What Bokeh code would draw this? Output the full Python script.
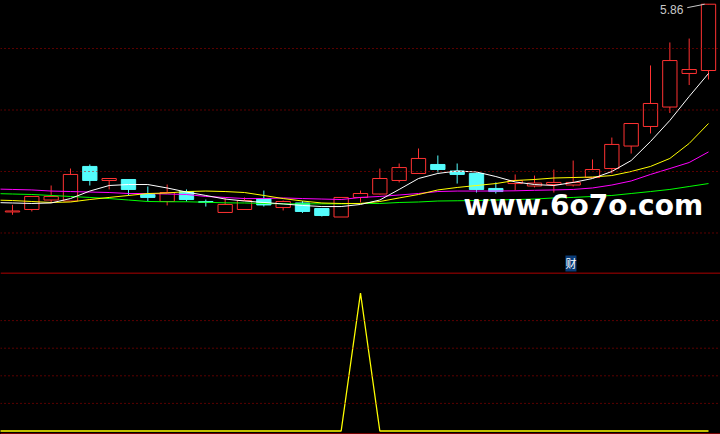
from bokeh.plotting import figure
from bokeh.layouts import column
from bokeh.models import Span, Label, Range1d
from bokeh.embed import file_html
from bokeh.resources import INLINE

# ---- daily candles (price), day 0 .. day 36 ----
opens = [4.171, 4.191, 4.268, 4.260, 4.541, 4.427, 4.435, 4.313, 4.256, 4.337,
         4.256, 4.167, 4.191, 4.280, 4.207, 4.244, 4.199, 4.130, 4.289, 4.317,
         4.427, 4.484, 4.557, 4.504, 4.484, 4.362, 4.402, 4.382, 4.394, 4.390,
         4.451, 4.524, 4.707, 4.866, 5.024, 5.297, 5.321]
highs = [4.229, 4.297, 4.386, 4.524, 4.557, 4.443, 4.435, 4.378, 4.394, 4.354,
         4.272, 4.285, 4.289, 4.345, 4.264, 4.260, 4.199, 4.289, 4.345, 4.524,
         4.565, 4.687, 4.630, 4.565, 4.492, 4.411, 4.476, 4.467, 4.516, 4.589,
         4.598, 4.776, 4.890, 5.362, 5.549, 5.581, 5.860]
lows = [4.148, 4.175, 4.244, 4.260, 4.386, 4.354, 4.305, 4.256, 4.224, 4.256,
        4.215, 4.167, 4.191, 4.215, 4.183, 4.163, 4.134, 4.130, 4.248, 4.313,
        4.411, 4.484, 4.492, 4.402, 4.329, 4.321, 4.345, 4.370, 4.329, 4.378,
        4.451, 4.484, 4.646, 4.809, 4.976, 5.203, 5.248]
closes = [4.179, 4.297, 4.297, 4.476, 4.427, 4.443, 4.354, 4.289, 4.329, 4.272,
          4.248, 4.232, 4.264, 4.228, 4.256, 4.175, 4.142, 4.289, 4.321, 4.443,
          4.532, 4.606, 4.516, 4.476, 4.354, 4.337, 4.427, 4.406, 4.411, 4.411,
          4.516, 4.720, 4.890, 5.053, 5.402, 5.329, 5.860]

# ---- moving averages and indicator: day -1 (off-screen) .. day 36 ----
ma_white = [4.248, 4.244, 4.240, 4.244, 4.280, 4.341, 4.386, 4.394, 4.394, 4.366, 4.333,
            4.305, 4.276, 4.260, 4.248, 4.236, 4.224, 4.215, 4.215, 4.232, 4.268,
            4.354, 4.443, 4.484, 4.504, 4.496, 4.459, 4.415, 4.394, 4.386, 4.411,
            4.443, 4.500, 4.589, 4.744, 4.915, 5.110, 5.297]
ma_yellow = [4.268, 4.264, 4.256, 4.248, 4.252, 4.272, 4.289, 4.305, 4.321, 4.325, 4.337,
             4.341, 4.337, 4.329, 4.305, 4.280, 4.260, 4.244, 4.240, 4.240, 4.256,
             4.285, 4.313, 4.350, 4.370, 4.386, 4.402, 4.427, 4.435, 4.447, 4.451,
             4.455, 4.467, 4.500, 4.541, 4.606, 4.728, 4.890]
ma_magenta = [4.358, 4.354, 4.350, 4.341, 4.337, 4.333, 4.329, 4.321, 4.321, 4.317, 4.313,
              4.297, 4.289, 4.280, 4.280, 4.285, 4.280, 4.276, 4.272, 4.289, 4.297,
              4.309, 4.321, 4.337, 4.341, 4.341, 4.341, 4.343, 4.347, 4.350, 4.354,
              4.366, 4.390, 4.423, 4.476, 4.524, 4.573, 4.659]
ma_green = [4.321, 4.317, 4.313, 4.305, 4.297, 4.289, 4.280, 4.268, 4.256, 4.254, 4.254,
            4.250, 4.245, 4.244, 4.240, 4.237, 4.237, 4.237, 4.237, 4.240, 4.240,
            4.248, 4.252, 4.260, 4.262, 4.264, 4.268, 4.272, 4.276, 4.285, 4.289,
            4.297, 4.305, 4.321, 4.337, 4.354, 4.378, 4.402]
signal = [0, 0, 0, 0, 0, 0, 0, 0, 0, 0, 0,
          0, 0, 0, 0, 0, 0, 0, 0, 100, 0,
          0, 0, 0, 0, 0, 0, 0, 0, 0, 0,
          0, 0, 0, 0, 0, 0, 0]

price_grid = [4.0, 4.5, 5.0, 5.5]
signal_grid = [20, 40, 60, 80]
last_label = "5.86"
watermark = "www.6o7o.com"
badge = "财"

RED = "#ff3232"
CYAN = "#54fcfc"
GRID = "#b40000"
SEP = "#e80000"

n = len(opens)
days = list(range(n))
line_days = [-1] + days
is_up = [c >= o for o, c in zip(opens, closes)]
edge = [RED if u else CYAN for u in is_up]
fill = ["#000000" if u else CYAN for u in is_up]
tops = [max(o, c) for o, c in zip(opens, closes)]
bots = [min(o, c) for o, c in zip(opens, closes)]

xr = Range1d(-0.62, 36.62)

p = figure(width=720, height=272, x_range=xr, y_range=Range1d(3.6788, 5.8902),
           output_backend="svg", toolbar_location=None,
           x_axis_type=None, y_axis_type=None, min_border=0,
           background_fill_color="black", border_fill_color="black",
           outline_line_color=None)
p.grid.visible = False

for g in price_grid:
    p.add_layout(Span(location=g, dimension="width", line_color=GRID,
                      line_dash="1 3", line_width=1))

p.segment(x0=days, y0=lows, x1=days, y1=highs, line_color=edge, line_width=1)
p.vbar(x=days, width=0.74, top=tops, bottom=bots, fill_color=fill,
       line_color=edge, line_width=1)

p.line(line_days, ma_green, line_color="#00ff00", line_width=1)
p.line(line_days, ma_magenta, line_color="#ff00ff", line_width=1)
p.line(line_days, ma_yellow, line_color="#ffff00", line_width=1)
p.line(line_days, ma_white, line_color="#ffffff", line_width=1)

top_hi = max(highs)
last_i = days[-1]
p.segment(x0=[last_i - 1.1], y0=[top_hi - 0.028], x1=[last_i - 0.2], y1=[top_hi],
          line_color="#c8c8c8", line_width=1)
p.add_layout(Label(x=last_i - 1.3, y=top_hi, text=last_label, text_align="right",
                   text_baseline="middle", y_offset=-5, text_color="#c8c8c8",
                   text_font="Liberation Sans", text_font_size="12px"))

p.add_layout(Label(x=23.33, y=4.224, text=watermark, text_align="left",
                   text_baseline="alphabetic", text_color="#ffffff",
                   text_font="DejaVu Sans", text_font_style="bold",
                   text_font_size="28px"))

p.add_layout(Label(x=28.6, y=3.687, text=badge, text_align="left",
                   text_baseline="bottom", text_color="#ffffff",
                   background_fill_color="#0a3c78",
                   text_font="Noto Sans CJK SC", text_font_size="11px"))

q = figure(width=720, height=162, x_range=xr, y_range=Range1d(-2.536, 114.86),
           output_backend="svg", toolbar_location=None,
           x_axis_type=None, y_axis_type=None, min_border=0,
           background_fill_color="black", border_fill_color="black",
           outline_line_color=None)
q.grid.visible = False
q.add_layout(Span(location=114.5, dimension="width", line_color=SEP, line_width=1))
q.add_layout(Span(location=-2.17, dimension="width", line_color=SEP, line_width=1))
for g in signal_grid:
    q.add_layout(Span(location=g, dimension="width", line_color=GRID,
                      line_dash="1 3", line_width=1))
q.line(line_days, signal, line_color="#ffff00", line_width=1.3)

layout = column(p, q, spacing=0)
html = file_html(layout, INLINE)
html = html.replace("<head>", "<head><style>html,body{background:#000000;}</style>", 1)
open("out.html", "w").write(html)
